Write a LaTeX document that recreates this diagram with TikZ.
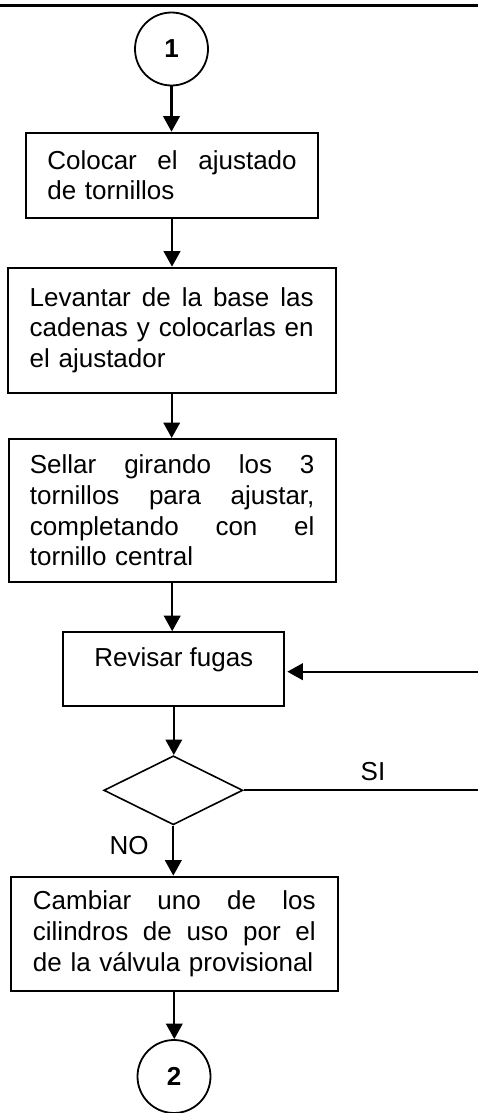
\documentclass[tikz,border=0pt]{standalone}
\usepackage{fontspec}
\setmainfont{Liberation Sans}
\usetikzlibrary{arrows.meta,shapes.geometric}
\begin{document}
\begin{tikzpicture}[x=1pt,y=-1pt,
  every node/.style={font=\fontsize{26}{30.7}\selectfont},
  box/.style={draw,line width=2pt,rectangle,inner sep=0pt,align=left},
  conn/.style={draw,circle,line width=1.8pt,minimum size=73pt,inner sep=0pt,font=\fontsize{26}{30.7}\selectfont\bfseries},
  dec/.style={draw,diamond,line width=1.6pt,minimum width=139pt,minimum height=69pt,inner sep=0pt},
  arr/.style={line width=2.2pt,-{Triangle[length=15.5pt,width=16.5pt]}},
  plain/.style={line width=2pt}]
\useasboundingbox (0,0) rectangle (478,1113);
\coordinate (tl) at (0,5.7);
\coordinate (tr) at (478,5.7);
\draw[line width=2.5pt] (tl) -- (tr);

\node[conn] (c1) at (171.5,49) {1};
\node[box,minimum width=292pt,minimum height=85pt,text width=249.4pt] (b1) at (172,175.2)
  {Colocar \hfill el \hfill ajustado\\de tornillos};
\node[box,minimum width=328pt,minimum height=125pt,text width=284pt] (b2) at (171.7,330.2)
  {Levantar \hfill de \hfill la \hfill base \hfill las\\cadenas \hfill y \hfill colocarlas \hfill en\\el ajustador};
\node[box,minimum width=327pt,minimum height=143pt,text width=284.6pt] (b3) at (172.2,510.5)
  {Sellar \hfill girando \hfill los \hfill 3\\tornillos \hfill para \hfill ajustar,\\completando \hfill con \hfill el\\tornillo central};
\node[box,minimum width=221pt,minimum height=74pt,align=center,text height=34.4pt,text depth=39.6pt] (b4) at (173.8,669.2)
  {Revisar fugas};
\node[dec] (d1) at (173.3,790.3) {};
\node[box,minimum width=326.7pt,minimum height=114.3pt,text width=282.7pt] (b5) at (174.3,933.8)
  {Cambiar \hfill uno \hfill de \hfill los\\cilindros \hfill de \hfill uso \hfill por \hfill el\\de la válvula provisional};
\node[conn] (c2) at (174,1076.5) {2};

\node[anchor=base] (si) at (373,780.7) {SI};
\node[anchor=base] (no) at (129,854.3) {NO};

\coordinate (rin) at (478,671.7);
\coordinate (rout) at (478,790.3);

\draw[arr] (c1.south) -- (c1.south |- b1.north);
\draw[arr] (b1.south) -- (b1.south |- b2.north);
\draw[arr] (b2.south) -- (b2.south |- b3.north);
\draw[arr] (b3.south) -- (b3.south |- b4.north);
\draw[arr] (b4.south) -- (b4.south |- d1.north);
\draw[arr] (d1.south) -- (d1.south |- b5.north);
\draw[arr] (b5.south) -- (b5.south |- c2.north);
\draw[arr] (rin) -- ([xshift=2pt]rin -| b4.east);
\draw[plain] (d1.east) -- (rout);
\end{tikzpicture}
\end{document}
